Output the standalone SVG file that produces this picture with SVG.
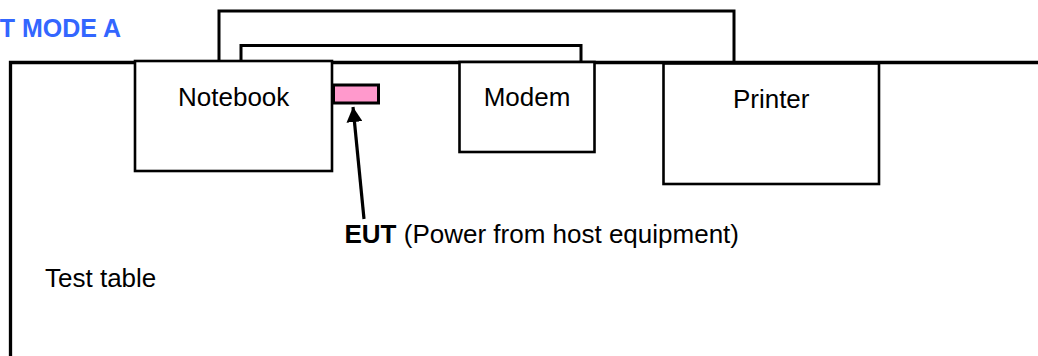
<svg xmlns="http://www.w3.org/2000/svg" width="1038" height="356" viewBox="0 0 1038 356">
<style>
.box{fill:#fff;stroke:#000;stroke-width:2.6}
.lbl{font-family:"Liberation Sans",Arial,sans-serif;font-size:26px;fill:#000}
</style>
<defs>
<marker id="ah" markerUnits="userSpaceOnUse" markerWidth="16" markerHeight="16" refX="15" refY="8" orient="auto">
<path d="M0,0 L15,8 L0,16 Z" fill="#000"/>
</marker>
</defs>
<rect width="1038" height="356" fill="#fff"/>
<text x="121" y="37" text-anchor="end" style="font-family:'Liberation Sans',Arial,sans-serif;font-size:25px;font-weight:bold;fill:#3366FF">T MODE A</text>
<g id="hostbar">
<path d="M219,62 V11 H734 V62" fill="none" stroke="#000" stroke-width="3"/>
<path d="M241,62 V45.5 H581 V62" fill="none" stroke="#000" stroke-width="3"/>
</g>
<g id="table">
<path d="M10.5,356 V62.5 H1038" fill="none" stroke="#000" stroke-width="3.3"/>
<text class="lbl" x="45" y="287">Test table</text>
</g>
<g id="notebook">
<rect class="box" x="135" y="61" width="197" height="110"/>
<text class="lbl" x="233.7" y="106" text-anchor="middle">Notebook</text>
</g>
<g id="eut">
<rect x="333.5" y="85" width="45" height="18" fill="#ff99cc" stroke="#000" stroke-width="3"/>
</g>
<g id="modem">
<rect class="box" x="459.5" y="62" width="135" height="90"/>
<text class="lbl" x="527" y="106" text-anchor="middle">Modem</text>
</g>
<g id="printer">
<rect class="box" x="663.5" y="63.5" width="215.5" height="120.5"/>
<text class="lbl" x="771.2" y="108" text-anchor="middle">Printer</text>
</g>
<g id="connectors">
<line x1="364" y1="219" x2="353" y2="107" stroke="#000" stroke-width="3.2" marker-end="url(#ah)"/>
</g>
<g id="eut-label">
<text class="lbl" x="344.5" y="243"><tspan font-weight="bold">EUT</tspan> (Power from host equipment)</text>
</g>
</svg>
